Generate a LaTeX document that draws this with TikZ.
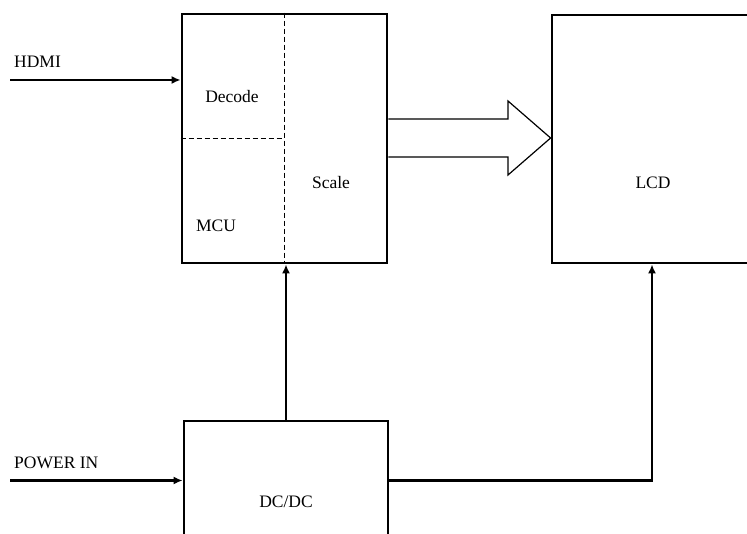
\documentclass[tikz,border=0pt]{standalone}
\usepackage{fontspec}
\setmainfont{Liberation Serif}
\usetikzlibrary{arrows.meta}

\tikzset{
  block/.style={draw, line width=2.8pt, rectangle, inner sep=0pt},
  conn/.style={line width=2.8pt, -{Latex[length=9pt,width=8pt]}},
  split/.style={line width=1.3pt, dash pattern=on 5pt off 3pt},
  lbl/.style={font=\fontsize{17.5}{20}\selectfont, inner sep=1pt}
}

\begin{document}
\begin{tikzpicture}[x=1pt, y=-1pt]

	\clip (0,0) rectangle (747,534);
	\fill[white] (0,0) rectangle (747,534);

	% Blocks
	\node[block, minimum width=205pt, minimum height=249pt] (proc) at (284.5,138.5) {};
	\node[block, minimum width=200pt, minimum height=248pt] (lcd) at (652,139) {};
	\node[block, minimum width=204pt, minimum height=119pt] (dcdc) at (286,480.5) {};

	% Inner split of the processor block
	\draw[split] (proc.north) -- (proc.south);
	\draw[split] (proc.west) -- (proc.center);

	% Labels
	\node[lbl] (decode) at (232,97) {Decode};
	\node[lbl] (mcu) at (216,226) {MCU};
	\node[lbl] (scale) at (331,183) {Scale};
	\node[lbl] (lcdtext) at (653,183) {LCD};
	\node[lbl] (dcdctext) at (286,502) {DC/DC};
	\node[lbl, anchor=west] (hdmi) at (13,62) {HDMI};
	\node[lbl, anchor=west] (power) at (13,463) {POWER IN};

	% Inputs
	\coordinate (hdmiin) at (10,80);
	\coordinate (powerin) at (10,480.5);
	\draw[conn] (hdmiin) -- (hdmiin -| proc.west);
	\draw[conn] (powerin) -- (dcdc.west);

	% Power distribution
	\draw[conn] (dcdc.north) -- (dcdc.north |- proc.south);
	\draw[conn] (dcdc.east) -| (lcd.south);

	% Video bus
	\draw[line width=1.2pt, line join=miter]
	  (proc.east |- 0,119) -- (508,119) -- (508,101) -- (lcd.west |- 0,138)
	  -- (508,175) -- (508,157) -- (proc.east |- 0,157);

\end{tikzpicture}
\end{document}
